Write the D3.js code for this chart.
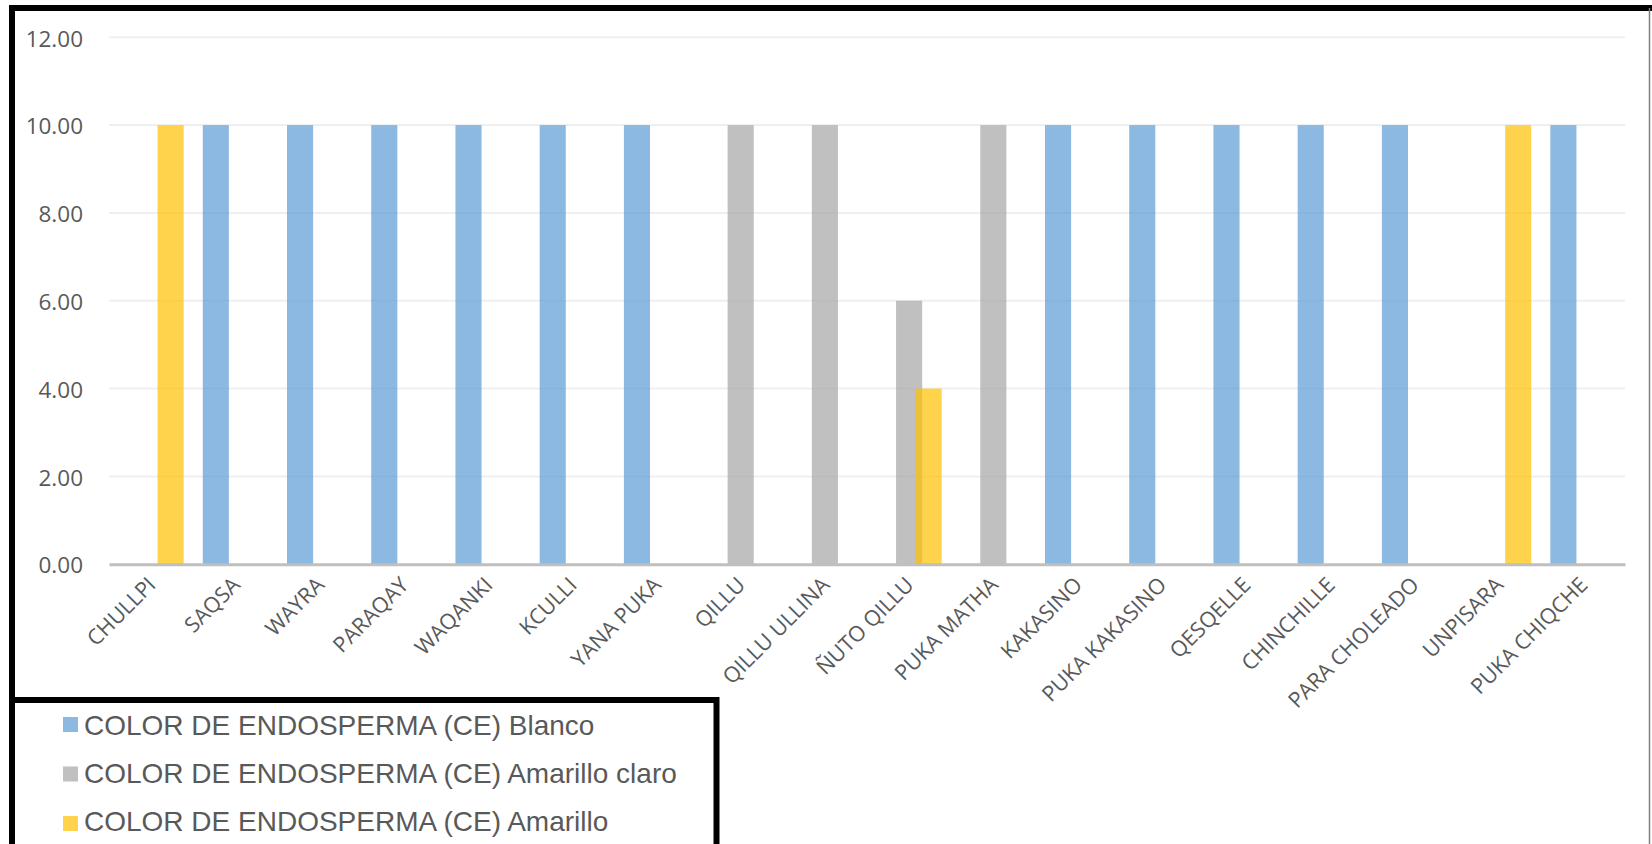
<!DOCTYPE html>
<html>
<head>
<meta charset="utf-8">
<script src="https://cdn.jsdelivr.net/npm/d3@7"></script>
<style>
  html, body { margin: 0; padding: 0; background: #ffffff; }
  svg { display: block; }
</style>
</head>
<body>
<svg id="chart" width="1652" height="844"></svg>
<script>
// Endosperm colour per maize variety
const categories = [
  "CHULLPI", "SAQSA", "WAYRA", "PARAQAY", "WAQANKI", "KCULLI", "YANA PUKA",
  "QILLU", "QILLU ULLINA", "ÑUTO QILLU", "PUKA MATHA", "KAKASINO",
  "PUKA KAKASINO", "QESQELLE", "CHINCHILLE", "PARA CHOLEADO", "UNPISARA", "PUKA CHIQCHE"
];
const seriesNames = [
  "COLOR DE ENDOSPERMA (CE) Blanco",
  "COLOR DE ENDOSPERMA (CE) Amarillo claro",
  "COLOR DE ENDOSPERMA (CE) Amarillo"
];
const blanco        = [0, 10, 10, 10, 10, 10, 10, 0, 0, 0, 0, 10, 10, 10, 10, 10, 0, 10];
const amarilloClaro = [0, 0, 0, 0, 0, 0, 0, 10, 10, 6, 10, 0, 0, 0, 0, 0, 0, 0];
const amarillo      = [10, 0, 0, 0, 0, 0, 0, 0, 0, 4, 0, 0, 0, 0, 0, 0, 10, 0];
const yTicks = [0, 2, 4, 6, 8, 10, 12];
const seriesColors = ["#5B9BD5", "#A5A5A5", "#FFC000"];

const seriesValues = [blanco, amarilloClaro, amarillo];

const svg = d3.select("#chart");
const textColor = "#595959";

const x = d3.scaleBand().domain(categories).range([109, 1625]).padding(0);
const y = d3.scaleLinear().domain([0, 12]).range([564.2, 37.3]);
// series sit side by side with a slight overlap
const offset = d3.scalePoint().domain(d3.range(seriesNames.length))
  .range([-x.bandwidth() * 0.2316, x.bandwidth() * 0.2316]);
const barW = x.bandwidth() * 0.31;

// horizontal gridlines
svg.append("g")
  .selectAll("line")
  .data(yTicks.filter(t => t > 0))
  .join("line")
  .attr("x1", x.range()[0]).attr("x2", x.range()[1])
  .attr("y1", d => y(d)).attr("y2", d => y(d))
  .attr("stroke", "#efefef").attr("stroke-width", 2);

// y axis labels
const yAxis = d3.axisLeft(y).tickValues(yTicks).tickFormat(d3.format(".2f")).tickSize(0).tickPadding(0);
const gy = svg.append("g").attr("transform", "translate(83,1.5)").call(yAxis);
gy.select(".domain").remove();
gy.selectAll("text")
  .attr("fill", textColor)
  .style("font-family", "'Open Sans', sans-serif")
  .style("font-size", "22.5px");

// bars
seriesValues.forEach((vals, si) => {
  svg.append("g")
    .selectAll("rect")
    .data(categories.map((c, i) => ({ c, v: vals[i] })).filter(d => d.v > 0))
    .join("rect")
    .attr("x", d => x(d.c) + x.bandwidth() / 2 + offset(si) - barW / 2)
    .attr("y", d => y(d.v))
    .attr("width", barW)
    .attr("height", d => y(0) - y(d.v))
    .attr("fill", seriesColors[si])
    .attr("fill-opacity", 0.7);
});

// category axis
const xAxis = d3.axisBottom(x).tickSize(0).tickPadding(0);
const gx = svg.append("g").attr("transform", `translate(0,${y(0)})`).call(xAxis);
gx.select(".domain").attr("stroke", "#bfbfbf").attr("stroke-width", 3);
gx.selectAll(".tick text")
  .attr("fill", textColor)
  .style("font-family", "'Open Sans', sans-serif")
  .style("font-size", "21.5px")
  .attr("text-anchor", "end")
  .attr("dy", null)
  .attr("y", null)
  .attr("transform", "translate(6,22) rotate(-45)");

// chart frame
svg.append("line").attr("x1", 9).attr("x2", 1652).attr("y1", 8).attr("y2", 8)
  .attr("stroke", "#000").attr("stroke-width", 6);
svg.append("line").attr("x1", 12).attr("x2", 12).attr("y1", 5).attr("y2", 844)
  .attr("stroke", "#000").attr("stroke-width", 6);
svg.append("line").attr("x1", 1649.5).attr("x2", 1649.5).attr("y1", 8).attr("y2", 844)
  .attr("stroke", "#808080").attr("stroke-width", 1.5);

// legend
const legend = svg.append("g");
legend.append("rect")
  .attr("x", 12).attr("y", 700).attr("width", 704.5).attr("height", 200)
  .attr("fill", "#fff").attr("stroke", "#000").attr("stroke-width", 6);
const item = legend.selectAll("g.item")
  .data(seriesNames)
  .join("g").attr("class", "item");
item.append("rect")
  .attr("x", 63).attr("y", (d, i) => 717 + i * 49.5)
  .attr("width", 15).attr("height", 15)
  .attr("fill", (d, i) => seriesColors[i]).attr("fill-opacity", 0.7);
item.append("text")
  .attr("x", 84).attr("y", (d, i) => 735 + i * 47.8)
  .attr("fill", textColor)
  .style("font-family", "'Liberation Sans', Arial, sans-serif")
  .style("font-size", "28px")
  .text(d => d);
</script>
</body>
</html>
